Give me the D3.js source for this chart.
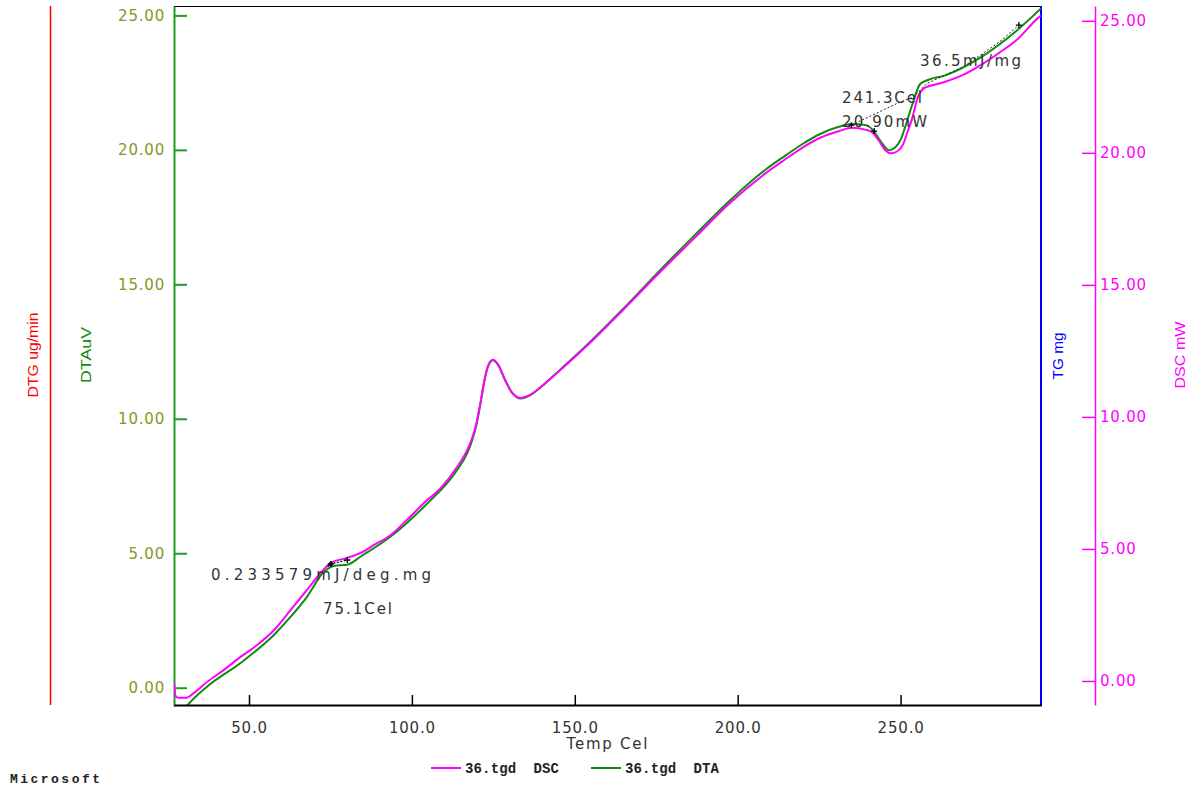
<!DOCTYPE html>
<html>
<head>
<meta charset="utf-8">
<script src="https://cdn.jsdelivr.net/npm/d3@7"></script>
<style>
  html, body { margin: 0; padding: 0; background: #fff; }
  svg { display: block; }
</style>
</head>
<body>
<svg id="chart" width="1204" height="787"></svg>
<script>
// ---------------- DATA ----------------
const xTicks = [50, 100, 150, 200, 250];
const yTicksDTA = [0, 5, 10, 15, 20, 25];
const yTicksDSC = [0, 5, 10, 15, 20, 25];

// DSC (mW) vs Temp (Cel)
const dscTemp = [27.0, 27.4, 28.2, 30.6, 33.1, 37.1, 42.3, 47.5, 52.5, 57.7, 62.8, 67.8, 72.0, 75.1, 80.1, 84.3, 88.4, 93.5, 98.5, 103.7, 108.9, 113.9, 117.0, 118.5, 119.8, 121.0, 122.2, 123.3, 124.8, 126.5, 128.6, 130.8, 133.5, 136.3, 139.5, 142.9, 153.8, 164.8, 175.9, 186.8, 197.7, 208.7, 214.3, 219.8, 225.3, 230.8, 235.1, 239.4, 241.0, 243.4, 245.3, 247.1, 248.9, 250.7, 252.0, 253.3, 255.3, 257.2, 258.2, 263.7, 269.2, 274.7, 280.3, 285.7, 292.2, 293.1];
const dscVal  = [-0.05, -0.55, -0.64, -0.64, -0.45, -0.04, 0.42, 0.92, 1.36, 1.93, 2.69, 3.45, 4.09, 4.47, 4.66, 4.85, 5.15, 5.53, 6.10, 6.74, 7.31, 8.11, 8.75, 9.20, 9.75, 10.50, 11.35, 11.90, 12.16, 11.97, 11.40, 10.91, 10.72, 10.83, 11.12, 11.48, 12.70, 14.05, 15.45, 16.78, 18.11, 19.24, 19.73, 20.19, 20.57, 20.81, 20.95, 20.87, 20.80, 20.45, 20.10, 19.98, 20.05, 20.30, 20.75, 21.20, 22.10, 22.45, 22.50, 22.69, 22.95, 23.33, 23.79, 24.28, 25.11, 25.20];

// DTA (uV) vs Temp (Cel)
const dtaTemp = [29.5, 31.0, 37.1, 47.5, 57.7, 62.8, 67.8, 73.0, 76.1, 80.1, 84.3, 93.5, 103.7, 113.9, 117.0, 118.5, 119.8, 121.0, 122.2, 123.3, 124.8, 126.5, 128.6, 130.8, 133.5, 136.3, 139.5, 142.9, 153.8, 164.8, 175.9, 186.8, 197.7, 208.7, 214.3, 219.8, 225.3, 230.8, 235.1, 239.4, 241.4, 244.0, 246.4, 248.4, 250.1, 251.8, 253.5, 256.0, 258.2, 263.7, 274.7, 285.7, 293.1];
const dtaVal  = [-0.90, -0.67, 0.04, 0.93, 1.97, 2.64, 3.38, 4.31, 4.53, 4.57, 4.88, 5.62, 6.73, 8.10, 8.72, 9.20, 9.77, 10.53, 11.38, 11.93, 12.18, 12.00, 11.44, 10.96, 10.75, 10.88, 11.17, 11.54, 12.75, 14.08, 15.49, 16.83, 18.13, 19.28, 19.76, 20.21, 20.59, 20.85, 20.96, 20.92, 20.75, 20.30, 19.99, 20.10, 20.40, 21.00, 21.65, 22.45, 22.59, 22.77, 23.45, 24.44, 25.26];

// Annotation baselines (on DTA scale)
const ann1Temp = [74.1, 75.1, 80.2];
const ann1Val  = [4.50, 4.60, 4.75];
const ann1MarkTemp = [75.1, 80.2];
const ann1MarkVal  = [4.60, 4.75];

const ann2Temp = [234.9, 248.8, 253.96, 258.1, 269.3, 281.1, 286.3];
const ann2Val  = [20.92, 21.72, 21.97, 22.47, 23.09, 24.08, 24.64];
const ann2MarkTemp = [234.9, 241.9, 286.3];
const ann2MarkVal  = [20.92, 20.70, 24.64];

const annTexts = ["0.233579mJ/deg.mg", "75.1Cel", "241.3Cel", "20.90mW", "36.5mJ/mg"];
const legendLabels = ["36.tgd  DSC", "36.tgd  DTA"];
const axisTitles = { dtg: "DTG ug/min", dta: "DTAuV", tg: "TG mg", dsc: "DSC mW", x: "Temp Cel" };

// ---------------- CHART ----------------
const svg = d3.select("#chart");
const L = 174, R = 1041, T = 6, B = 705;

const x = d3.scaleLinear().domain([26.98, 293.1]).range([L, R]);
const yL = d3.scaleLinear().domain([-0.68, 25.35]).range([706, 6]);
const yR = d3.scaleLinear().domain([-0.91, 25.56]).range([705, 6]);

const C_PINK = "#ff00ff", C_GREEN = "#108a10", C_AXG = "#229a22", C_BLUE = "#0000ff", C_RED = "#ff0000";
const F_SANS = "'DejaVu Sans', Verdana, sans-serif";

svg.append("rect").attr("width", 1204).attr("height", 787).attr("fill", "#fff");

svg.append("defs").append("clipPath").attr("id", "plotclip")
  .append("rect").attr("x", L).attr("y", T).attr("width", R - L).attr("height", B - T);

// top frame
svg.append("line").attr("x1", L).attr("x2", R).attr("y1", T + 0.5).attr("y2", T + 0.5)
  .attr("stroke", "#000").attr("stroke-width", 1);

// red DTG axis
svg.append("line").attr("x1", 50.5).attr("x2", 50.5).attr("y1", 6).attr("y2", 705)
  .attr("stroke", C_RED).attr("stroke-width", 1.5);

// left DTA axis
const gL = svg.append("g").attr("transform", `translate(${L},0)`)
  .call(d3.axisLeft(yL).tickValues(yTicksDTA).tickFormat(d3.format(".2f")).tickSizeInner(-13).tickSizeOuter(0).tickPadding(9));
gL.select(".domain").attr("stroke", C_AXG).attr("stroke-width", 2);
gL.selectAll(".tick line").attr("stroke", C_AXG).attr("stroke-width", 2);
gL.selectAll(".tick text").attr("fill", "#7f9a1c").attr("font-family", F_SANS).attr("font-size", 15)
  .attr("letter-spacing", 0.8).attr("x", -9).attr("text-anchor", "end");

// right blue TG axis line
svg.append("line").attr("x1", R).attr("x2", R).attr("y1", 6).attr("y2", 706)
  .attr("stroke", C_BLUE).attr("stroke-width", 2);

// right DSC axis
const gR = svg.append("g").attr("transform", `translate(1095,0)`)
  .call(d3.axisRight(yR).tickValues(yTicksDSC).tickFormat(d3.format(".2f")).tickSizeInner(-13).tickSizeOuter(0).tickPadding(5));
gR.select(".domain").attr("stroke", C_PINK).attr("stroke-width", 1.5);
gR.selectAll(".tick line").attr("stroke", C_PINK).attr("stroke-width", 1.5);
gR.selectAll(".tick text").attr("fill", C_PINK).attr("font-family", F_SANS).attr("font-size", 15)
  .attr("letter-spacing", 0.8);

// curves
const ptsDSC = dscTemp.map((t, i) => [t, dscVal[i]]);
const ptsDTA = dtaTemp.map((t, i) => [t, dtaVal[i]]);
const lineDSC = d3.line().x(d => x(d[0])).y(d => yR(d[1])).curve(d3.curveMonotoneX);
const lineDTA = d3.line().x(d => x(d[0])).y(d => yL(d[1])).curve(d3.curveMonotoneX);

const plot = svg.append("g").attr("clip-path", "url(#plotclip)");
plot.append("path").datum(ptsDTA).attr("d", lineDTA).attr("fill", "none")
  .attr("stroke", C_GREEN).attr("stroke-width", 2);
plot.append("path").datum(ptsDSC).attr("d", lineDSC).attr("fill", "none")
  .attr("stroke", C_PINK).attr("stroke-width", 2);

// annotation dashed baselines
const lineAnn = d3.line().x(d => x(d[0])).y(d => yL(d[1]));
plot.append("path").datum(ann1Temp.map((t, i) => [t, ann1Val[i]])).attr("d", lineAnn)
  .attr("fill", "none").attr("stroke", "#000").attr("stroke-width", 1.2).attr("stroke-dasharray", "2,1.5");
plot.append("path").datum(ann2Temp.map((t, i) => [t, ann2Val[i]])).attr("d", lineAnn)
  .attr("fill", "none").attr("stroke", "#222").attr("stroke-width", 1).attr("stroke-dasharray", "2,2");

const marks = ann1MarkTemp.map((t, i) => [t, ann1MarkVal[i]])
  .concat(ann2MarkTemp.map((t, i) => [t, ann2MarkVal[i]]));
plot.selectAll("path.mk").data(marks).enter().append("path").attr("class", "mk")
  .attr("d", d => `M${x(d[0]) - 3},${yL(d[1])}H${x(d[0]) + 3}M${x(d[0])},${yL(d[1]) - 3}V${yL(d[1]) + 3}`)
  .attr("stroke", "#000").attr("stroke-width", 1.3);
plot.append("circle").attr("cx", x(ann1MarkTemp[0])).attr("cy", yL(ann1MarkVal[0])).attr("r", 2.2).attr("fill", "#000");

// bottom axis
const gB = svg.append("g").attr("transform", `translate(0,${B})`)
  .call(d3.axisBottom(x).tickValues(xTicks).tickFormat(d3.format(".1f")).tickSizeInner(-10).tickSizeOuter(0).tickPadding(17));
gB.select(".domain").attr("stroke", "#000").attr("stroke-width", 2);
gB.selectAll(".tick line").attr("stroke", "#000").attr("stroke-width", 1.5);
gB.selectAll(".tick text").attr("fill", "#333").attr("font-family", F_SANS).attr("font-size", 15)
  .attr("letter-spacing", 0.8);

// annotation texts
const annPos = [[211, 580, 220], [323, 614, 69], [842, 103, 80], [842, 127, 85], [920, 66, 101]];
svg.selectAll("text.ann").data(annTexts).enter().append("text").attr("class", "ann")
  .attr("x", (d, i) => annPos[i][0]).attr("y", (d, i) => annPos[i][1])
  .attr("textLength", (d, i) => annPos[i][2]).attr("lengthAdjust", "spacing")
  .attr("font-family", F_SANS).attr("font-size", 15).attr("fill", "#333").text(d => d);

// axis titles
function vtitle(txt, cx, cy, len, color, fam) {
  svg.append("text").attr("transform", `translate(${cx},${cy}) rotate(-90)`)
    .attr("text-anchor", "middle").attr("dominant-baseline", "central")
    .attr("textLength", len).attr("lengthAdjust", "spacingAndGlyphs")
    .attr("font-family", fam).attr("font-size", 14).attr("fill", color).text(txt);
}
vtitle(axisTitles.dtg, 33, 355, 85, C_RED, "'Liberation Sans', Arial, sans-serif");
vtitle(axisTitles.dta, 86, 355, 56, C_GREEN, "'Liberation Sans', Arial, sans-serif");
vtitle(axisTitles.tg, 1058, 356, 47, C_BLUE, "'Liberation Sans', Arial, sans-serif");
vtitle(axisTitles.dsc, 1180, 355, 67, C_PINK, "'Liberation Sans', Arial, sans-serif");

svg.append("text").attr("x", 607).attr("y", 749).attr("text-anchor", "middle")
  .attr("textLength", 81).attr("lengthAdjust", "spacing")
  .attr("font-family", F_SANS).attr("font-size", 15).attr("fill", "#333").text(axisTitles.x);

// legend
const legX = [431, 591];
const legColors = [C_PINK, C_GREEN];
legendLabels.forEach((lab, i) => {
  svg.append("line").attr("x1", legX[i]).attr("x2", legX[i] + 30).attr("y1", 768).attr("y2", 768)
    .attr("stroke", legColors[i]).attr("stroke-width", 2);
  svg.append("text").attr("x", legX[i] + 34).attr("y", 773)
    .attr("textLength", 94).attr("lengthAdjust", "spacing")
    .attr("font-family", "'Liberation Mono', 'Courier New', monospace").attr("font-weight", "bold")
    .attr("font-size", 14).attr("fill", "#222").attr("xml:space", "preserve").text(lab);
});

svg.append("text").attr("x", 10).attr("y", 783)
  .attr("textLength", 90).attr("lengthAdjust", "spacing")
  .attr("font-family", "'Liberation Mono', 'Courier New', monospace").attr("font-weight", "bold")
  .attr("font-size", 13).attr("fill", "#222").text("Microsoft");
</script>
</body>
</html>
